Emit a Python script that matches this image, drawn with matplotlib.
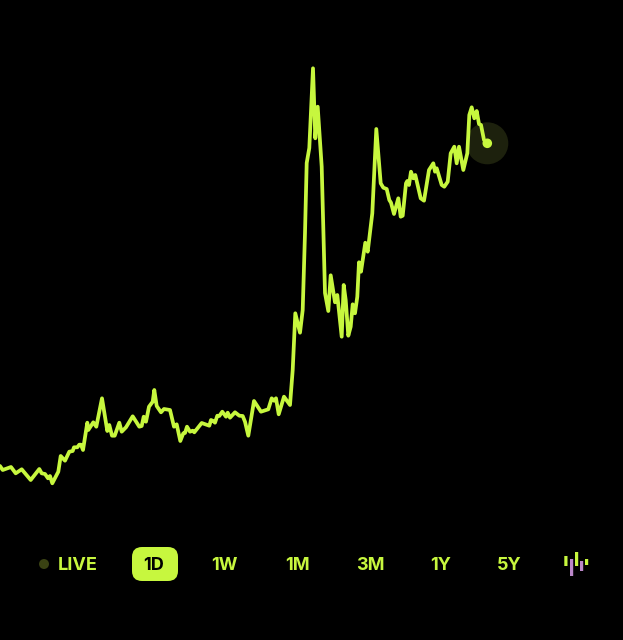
import matplotlib
matplotlib.use("Agg")
import matplotlib.pyplot as plt
from matplotlib.patches import Circle, FancyBboxPatch, Rectangle

##### Price trace (x along the screen, price as height above the bottom edge)
times = [0, 2.7, 11, 15.7, 21.7, 30.7, 39.3, 41.7, 45, 48, 50, 52.3, 58.3, 60.7, 65, 69.3, 72.7, 74, 77.3, 79.3,
         81, 83, 87.3, 88.3, 93.3, 96.3, 102, 107.3, 109.3, 112, 114.7, 119.3, 121.7, 126, 132.7, 139.3, 141.7,
         143.7, 146, 149, 152.7, 154.3, 156.7, 161, 164, 170, 174, 176.7, 180.3, 183.3, 185, 187, 190, 192.7,
         194.3, 201.7, 209.3, 211, 213.3, 215, 217.3, 219.3, 222.3, 226, 227.7, 230, 235, 239.3, 242.7, 245,
         248.3, 254, 261, 268.3, 271.7, 274, 276, 278.7, 284, 290, 292.7,
         295.3, 300, 302.7, 305, 306.7, 309.3, 313, 315.3, 317.7, 321.7, 325, 328.3, 330.7, 335, 337.3, 341.7,
         343.7, 345.7, 348.3, 350.7, 352.7, 355, 357.3, 359, 361, 365.3, 367.7, 372.3, 376.3, 380.7, 383.3,
         386.7, 389.3, 391, 394, 398.3, 400.7, 402.7, 406, 407.3, 409, 411, 413.3, 415.3, 420.7, 424, 429,
         433.3, 435, 436.7, 441.7, 444.3, 447.7, 450.7, 454.3, 456.7, 459, 463.3, 467.3, 469.3, 471.7, 474.3,
         476.7, 479, 481, 484, 487.3]
prices = [174, 170, 173, 166.7, 170.7, 160, 171, 166.7, 166, 161.7, 164, 156.7, 168.3, 184, 179.3, 188.3, 189,
          192.7, 192.7, 195.3, 195.3, 190, 217.3, 210, 217.7, 213.3, 241.7, 209, 215, 204.3, 204.3, 217.3, 208.3,
          212.7, 223.7, 213.3, 214, 223.3, 218.3, 233.3, 238.3, 250, 234, 227.7, 231, 230, 213.3, 215.7, 199,
          206.7, 207, 213.3, 208.3, 209.3, 207.7, 217, 214.3, 220, 219, 217.3, 224.3, 224, 228.3, 223.3, 227.3,
          222.3, 227.7, 224.3, 224, 218.3, 204.3, 239, 228.3, 230.7, 241.7, 239.3, 241.7, 225.7, 243.3, 235, 270,
          326.7, 307.3, 330, 407, 477, 492, 571.7, 501.7, 533.3, 473.3, 347, 329, 364.7, 337.7, 345, 303.3,
          355, 340, 304.3, 313.3, 335.7, 326.7, 343.3, 377.7, 368.3, 397.3, 388.3, 426.7, 511, 456.7, 452.3,
          451, 440, 437.3, 426, 441.7, 423.3, 424.3, 456.7, 459, 455, 468.3, 461.7, 465, 441.7, 439.3, 470,
          476.7, 468.3, 471.7, 455, 453.3, 458.3, 486.7, 493.3, 476.7, 493.3, 470, 486.7, 525, 532.7, 521.7,
          529, 516, 515, 500, 496.7]

##### Range selector
range_labels = ["LIVE", "1D", "1W", "1M", "3M", "1Y", "5Y"]
label_x = [77.5, 154, 224.5, 297, 370, 441, 509.5]
selected = "1D"

##### Candle icon bars: (bottom, top) heights
icon_lows = [74, 64, 74, 69, 75]
icon_highs = [84, 81, 88, 79, 81]

lime = "#c7f73e"

fig = plt.figure(figsize=(6.23, 6.40), dpi=100, facecolor="black")
ax = fig.add_axes([0, 0, 1, 1])
ax.set_xlim(0, 623)
ax.set_ylim(0, 640)
ax.axis("off")

# halo and end dot
ax.add_patch(Circle((times[-1], prices[-1]), 21, color="#1d210d", lw=0, zorder=1))
ax.plot(times, prices, color=lime, lw=2.7, solid_joinstyle="round", solid_capstyle="round", zorder=2)
ax.add_patch(Circle((times[-1], prices[-1]), 4.8, color=lime, lw=0, zorder=3))

# selector row
ax.add_patch(Circle((44, 76), 5, color="#3a4213", lw=0))
ax.add_patch(FancyBboxPatch((141, 68), 28, 16, boxstyle="round,pad=9,rounding_size=10", lw=0, fc=lime))

for name, x in zip(range_labels, label_x):
    c = "black" if name == selected else lime
    ax.text(x, 75, name, color=c, fontsize=13, family="Inter", weight="bold", ha="center", va="center")

# candle icon
icon_x = [564.3, 570, 575, 580, 585]
icon_colors = [lime, "#bb87c9", lime, "#bb87c9", lime]
for x, lo, hi, c in zip(icon_x, icon_lows, icon_highs, icon_colors):
    ax.add_patch(Rectangle((x, lo), 3.2, hi - lo, color=c, lw=0, snap=False))

fig.savefig("out.png", dpi=100, facecolor="black")
